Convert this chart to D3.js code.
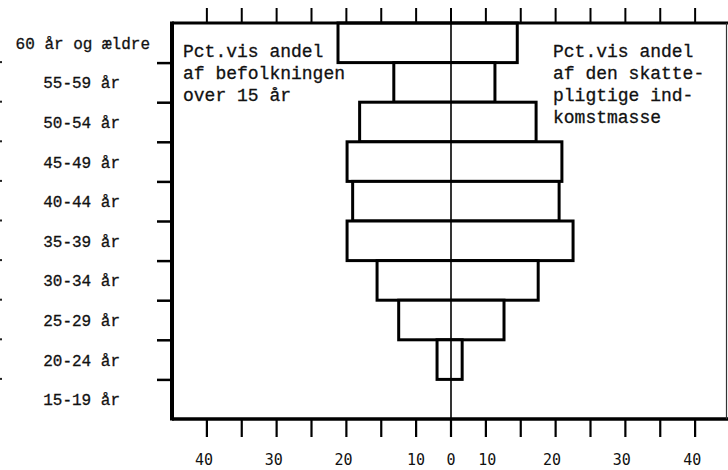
<!DOCTYPE html>
<html>
<head>
<meta charset="utf-8">
<script src="https://cdn.jsdelivr.net/npm/d3@7"></script>
<style>
  body { margin: 0; background: #fff; }
  svg text { fill: #111; }
</style>
</head>
<body>
<div id="chart"></div>
<script>
// Age groups, top to bottom
var ageGroups = ["60 år og ældre", "55-59 år", "50-54 år", "45-49 år", "40-44 år",
                 "35-39 år", "30-34 år", "25-29 år", "20-24 år", "15-19 år"];
// Pct. share of population over 15 (left) and of taxable income (right)
var populationPct = [16.2, 8.2, 13.1, 14.9, 14.1, 14.9, 10.6, 7.5, 2.0, 0];
var incomePct     = [9.5, 6.3, 12.2, 15.9, 15.5, 17.5, 12.5, 7.6, 1.6, 0];

// axis ticks (every 5 pct) and the printed labels, placed as in the original
var tickValues  = [-35, -30, -25, -20, -15, -10, -5, 0, 5, 10, 15, 20, 25, 30, 35];
var labelValues = [-35.4, -25.4, -15.4, -5, 0, 5.2, 14.5, 24.5, 34.6];
var labelTexts  = ["40", "30", "20", "10", "0", "10", "20", "30", "40"];

var leftNote  = ["Pct.vis andel", "af befolkningen", "over 15 år"];
var rightNote = ["Pct.vis andel", "af den skatte-", "pligtige ind-", "komstmasse"];

function drawChart() {
    d3.select("#chart").html("");

    var width = 728, height = 470;
    var top = 23, bottom = 419;

    var x = d3.scaleLinear().domain([-40, 40]).range([172, 730]);
    var y = d3.scaleBand().domain(ageGroups).range([top, bottom]);

    var svg = d3.select("#chart").append("svg")
        .attr("width", width)
        .attr("height", height);

    var rows = ageGroups.map(function(g, i) {
        return { group: g, pop: populationPct[i], inc: incomePct[i], i: i };
    });

    // bars
    svg.selectAll(".bar")
       .data(rows.filter(function(d) { return d.pop > 0 || d.inc > 0; }))
       .enter().append("rect")
       .attr("class", "bar")
       .attr("x", function(d) { return x(-d.pop); })
       .attr("y", function(d) { return y(d.group); })
       .attr("width", function(d) { return x(d.inc) - x(-d.pop); })
       .attr("height", y.bandwidth())
       .attr("fill", "#fff")
       .attr("stroke", "#000")
       .attr("stroke-width", 3);

    // centre line
    svg.append("line")
       .attr("x1", x(0)).attr("x2", x(0))
       .attr("y1", top).attr("y2", bottom)
       .attr("stroke", "#000").attr("stroke-width", 1.6);

    // frame
    svg.append("line").attr("x1", x(-40)).attr("x2", x(-40)).attr("y1", top - 1.5).attr("y2", bottom + 1.5)
       .attr("stroke", "#000").attr("stroke-width", 4);
    svg.append("line").attr("x1", x(-40)).attr("x2", width).attr("y1", top).attr("y2", top)
       .attr("stroke", "#000").attr("stroke-width", 3);
    svg.append("line").attr("x1", x(-40)).attr("x2", width).attr("y1", bottom).attr("y2", bottom)
       .attr("stroke", "#000").attr("stroke-width", 3.5);
    svg.append("line").attr("x1", width - 1.5).attr("x2", width - 1.5).attr("y1", top).attr("y2", bottom)
       .attr("stroke", "#333").attr("stroke-width", 1.2);

    // top and bottom ticks
    svg.selectAll(".tick-top")
       .data(tickValues)
       .enter().append("line")
       .attr("x1", function(d) { return x(d); }).attr("x2", function(d) { return x(d); })
       .attr("y1", 8).attr("y2", top)
       .attr("stroke", "#000").attr("stroke-width", 2);

    svg.selectAll(".tick-bottom")
       .data(tickValues)
       .enter().append("line")
       .attr("x1", function(d) { return x(d); }).attr("x2", function(d) { return x(d); })
       .attr("y1", bottom).attr("y2", 437)
       .attr("stroke", "#000").attr("stroke-width", 2.2);

    svg.selectAll(".x-label")
       .data(labelValues)
       .enter().append("text")
       .attr("x", function(d) { return x(d); })
       .attr("y", 465)
       .attr("text-anchor", "middle")
       .style("font-family", "'DejaVu Sans Mono', monospace")
       .style("font-size", "15px")
       .text(function(d, i) { return labelTexts[i]; });

    // left ticks on the frame between rows
    var boundaries = ageGroups.slice(1).map(function(g) { return y(g); });
    svg.selectAll(".tick-left")
       .data(boundaries)
       .enter().append("line")
       .attr("x1", 157).attr("x2", x(-40))
       .attr("y1", function(d) { return d + 0.5; }).attr("y2", function(d) { return d + 0.5; })
       .attr("stroke", "#000").attr("stroke-width", 2.5);

    // faint marks at the page edge
    svg.selectAll(".edge-mark")
       .data(boundaries)
       .enter().append("rect")
       .attr("x", 0).attr("y", function(d) { return d - 1.5; })
       .attr("width", 2).attr("height", 2)
       .attr("fill", "#222");

    // age labels
    svg.selectAll(".age-label")
       .data(rows)
       .enter().append("text")
       .attr("x", function(d) { return d.i === 0 ? 150 : 120; })
       .attr("y", function(d) { return y(d.group) + y.bandwidth() / 2 + 6; })
       .attr("text-anchor", "end")
       .style("font-family", "'Liberation Mono', monospace")
       .style("font-size", "16px")
       .style("stroke", "#111").style("stroke-width", 0.3)
       .text(function(d) { return d.group; });

    // notes inside the frame
    svg.selectAll(".note-left")
       .data(leftNote)
       .enter().append("text")
       .attr("x", 183)
       .attr("y", function(d, i) { return 57 + i * 22; })
       .style("font-family", "'Liberation Mono', monospace")
       .style("font-size", "18px")
       .style("stroke", "#111").style("stroke-width", 0.3)
       .text(function(d) { return d; });

    svg.selectAll(".note-right")
       .data(rightNote)
       .enter().append("text")
       .attr("x", 553)
       .attr("y", function(d, i) { return 57 + i * 22; })
       .style("font-family", "'Liberation Mono', monospace")
       .style("font-size", "18px")
       .style("stroke", "#111").style("stroke-width", 0.3)
       .text(function(d) { return d; });
}

drawChart();
</script>
</body>
</html>
